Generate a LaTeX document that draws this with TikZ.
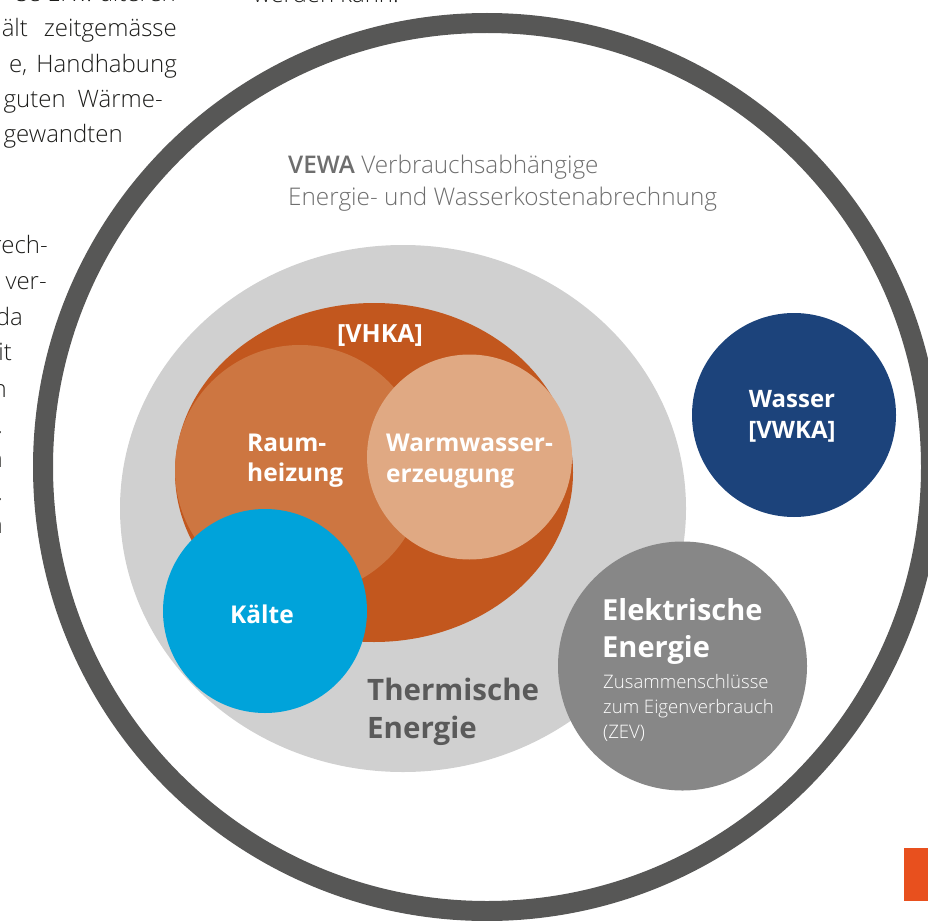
\documentclass[tikz,border=0pt]{standalone}
\usepackage{fontspec}
\setmainfont{Open Sans}
\newfontfamily\lightfont{Open Sans Light}
\usetikzlibrary{shapes.geometric}
\definecolor{ringgrey}{HTML}{575756}
\definecolor{thermgrey}{HTML}{D0D0D0}
\definecolor{vhka}{HTML}{C2571E}
\definecolor{raum}{HTML}{CD7641}
\definecolor{warm}{HTML}{E0A983}
\definecolor{kaelte}{HTML}{00A3DA}
\definecolor{wasser}{HTML}{1C437B}
\definecolor{elek}{HTML}{878787}
\definecolor{thtext}{HTML}{5A5A5A}
\definecolor{vewatext}{HTML}{6E6E6E}
\definecolor{pagetext}{HTML}{1D1D1B}
\definecolor{accent}{HTML}{E8501E}
\begin{document}
\begin{tikzpicture}[x=1pt,y=-1pt,
  disc/.style={circle,inner sep=0pt,outer sep=0pt,minimum size=#1},
  oval/.style 2 args={ellipse,inner sep=0pt,outer sep=0pt,minimum width=#1,minimum height=#2},
  whitebold/.style={text=white,font=\bfseries\fontsize{24.5}{29}\selectfont,inner sep=0pt},
  elekbig/.style={text=white,font=\bfseries\fontsize{29}{35}\selectfont,inner sep=0pt,anchor=base west},
  eleksmall/.style={text=white,font=\lightfont\fontsize{18.6}{25}\selectfont,inner sep=0pt,anchor=base west},
  thermtxt/.style={text=thtext,font=\bfseries\fontsize{29.5}{38}\selectfont,inner sep=0pt,anchor=base west},
  vewatxt/.style={text=vewatext,font=\lightfont\fontsize{24.3}{31}\selectfont,inner sep=0pt,anchor=base west},
  pagetxt/.style={text=pagetext,font=\lightfont\fontsize{24}{36}\selectfont,inner sep=0pt},
]
\useasboundingbox (0,0) rectangle (928,920);
\clip (0,0) rectangle (928,920);

% shapes
\node[disc=888, draw=ringgrey, line width=20pt] (ring) at (487,467) {};
\node[oval={566}{527}, fill=thermgrey] (therm) at (403,508.5) {};
\node[oval={398}{339}, fill=vhka] (vhkaoval) at (374,472.5) {};
\node[disc=250, fill=raum] (raumc) at (300,470) {};
\node[disc=205, fill=warm] (warmc) at (469.5,457) {};
\node[disc=204, fill=kaelte] (kaeltec) at (265,611) {};
\node[disc=204, fill=wasser] (wasserc) at (794,415) {};
\node[disc=249, fill=elek] (elekc) at (682.5,666) {};
\node[fill=accent, inner sep=0pt, outer sep=0pt, minimum width=24, minimum height=53, anchor=north west] (accentbar) at (904,848) {};

% VEWA title
\node[vewatxt] (vewaA) at (288,174) {{\bfseries VEWA} Verbrauchsabhängige};
\node[vewatxt] (vewaB) at (288,205) {Energie- und Wasserkostenabrechnung};

% labels in circles
\node[whitebold, anchor=base, font=\bfseries\fontsize{25}{29}\selectfont] (vhkalbl) at (380,342) {[VHKA]};
\node[whitebold, anchor=base west] (raumA) at (247,451) {Raum-};
\node[whitebold, anchor=base west] (raumB) at (247,481) {heizung};
\node[whitebold, anchor=base west] (warmA) at (386,451) {Warmwasser-};
\node[whitebold, anchor=base west] (warmB) at (386,482) {erzeugung};
\node[whitebold, anchor=base] (kaeltelbl) at (262,623) {Kälte};
\node[whitebold, anchor=base, font=\bfseries\fontsize{24}{29}\selectfont] (wasserA) at (792,407) {Wasser};
\node[whitebold, anchor=base, font=\bfseries\fontsize{24}{29}\selectfont] (wasserB) at (792,438) {[VWKA]};
\node[elekbig] (elekA) at (602,620) {Elektrische};
\node[elekbig] (elekB) at (602,657) {Energie};
\node[eleksmall] (zevA) at (603,688) {Zusammenschlüsse};
\node[eleksmall] (zevB) at (603,713) {zum Eigenverbrauch};
\node[eleksmall] (zevC) at (603,738) {(ZEV)};
\node[thermtxt] (thermA) at (367,700) {Thermische};
\node[thermtxt] (thermB) at (367,738) {Energie};

% page text fragments
\node[pagetxt, anchor=base east] (pA) at (176,2) {se Erw. älteren};
\node[pagetxt, anchor=base west] (pB) at (253,3) {werden kann.};
\node[pagetxt, anchor=base east] (pC) at (177,37) {ält\hspace{16pt}zeitgemässe};
\node[pagetxt, anchor=base east] (pD) at (177,73) {e,\hspace{9pt}Handhabung};
\node[pagetxt, anchor=base east] (pE) at (163,108) {guten\hspace{12pt}Wärme-};
\node[pagetxt, anchor=base east] (pF) at (123,143) {gewandten};
\node[pagetxt, anchor=base east] (pG) at (48,253) {rech-};
\node[pagetxt, anchor=base east] (pH) at (47,289) {ver-};
\node[pagetxt, anchor=base east] (pI) at (23,325) {da};
\node[pagetxt, anchor=base east] (pJ) at (12,360) {it};
\node[pagetxt, anchor=base east] (pK) at (7,397) {n};
\node[pagetxt, anchor=base east] (pL) at (3,433) {.};
\node[pagetxt, anchor=base east] (pM) at (3,467) {n};
\node[pagetxt, anchor=base east] (pN) at (3,500) {.};
\node[pagetxt, anchor=base east] (pO) at (3,533) {n};
\end{tikzpicture}
\end{document}
